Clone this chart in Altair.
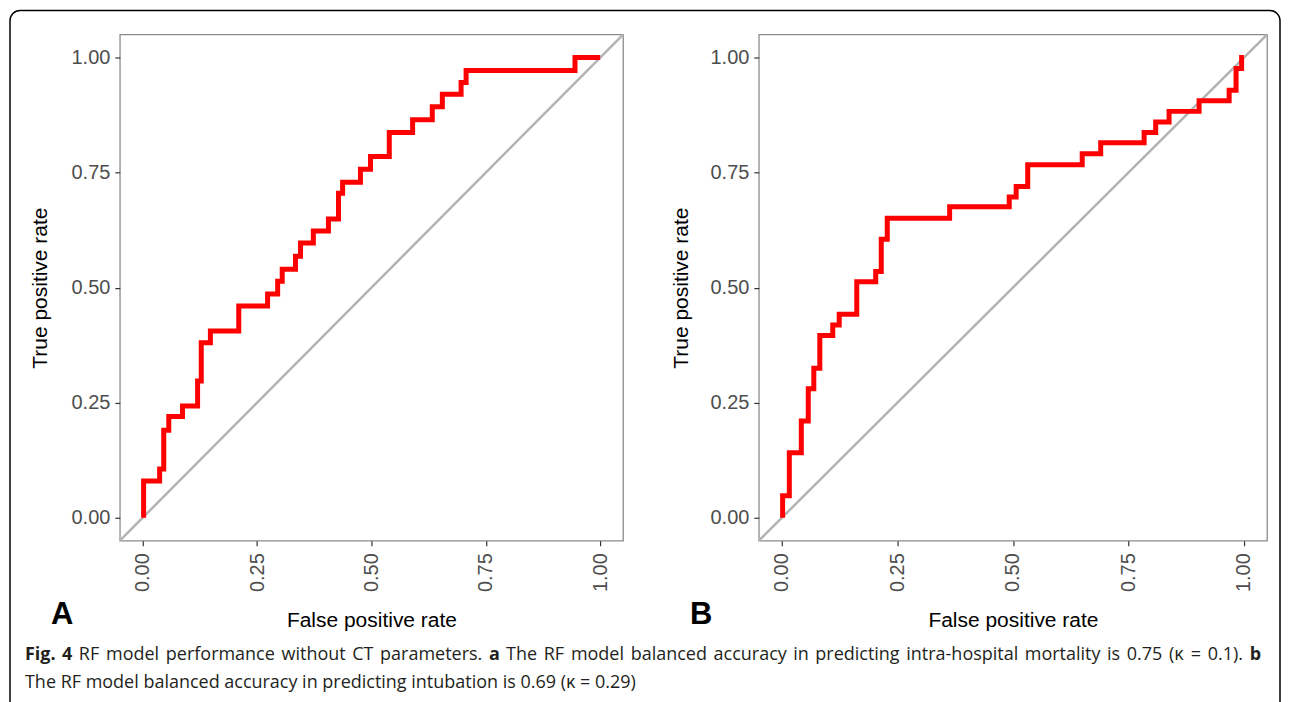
import altair as alt
import pandas as pd

# ---- data ----
fpr_a = [0.002, 0.002, 0.037, 0.046, 0.057, 0.087, 0.12, 0.128, 0.148, 0.21, 0.273, 0.295, 0.305,
         0.334, 0.345, 0.373, 0.406, 0.428, 0.437, 0.476, 0.498, 0.539, 0.59, 0.633, 0.655, 0.696,
         0.707, 0.945, 1.0]
tpr_a = [0.0, 0.08, 0.106, 0.19, 0.22, 0.243, 0.297, 0.38, 0.406, 0.46, 0.486, 0.514, 0.54,
         0.568, 0.597, 0.623, 0.649, 0.705, 0.729, 0.757, 0.785, 0.837, 0.865, 0.893, 0.92, 0.946,
         0.972, 1.0, 1.0]

fpr_b = [0.0015, 0.0015, 0.016, 0.042, 0.057, 0.069, 0.082, 0.11, 0.124, 0.162, 0.203, 0.215,
         0.228, 0.363, 0.492, 0.507, 0.532, 0.65, 0.69, 0.784, 0.809, 0.838, 0.903, 0.968, 0.983,
         0.995, 1.0]
tpr_b = [0.0, 0.048, 0.141, 0.21, 0.28, 0.325, 0.396, 0.419, 0.442, 0.513, 0.535, 0.605, 0.651,
         0.676, 0.697, 0.72, 0.767, 0.791, 0.815, 0.837, 0.86, 0.883, 0.906, 0.929, 0.976, 1.0, 1.0]

diag = [-0.05, 1.05]
tick_values = [0.0, 0.25, 0.5, 0.75, 1.0]
axis_domain = [-0.05, 1.05]

x_title = "False positive rate"
y_title = "True positive rate"
panel_letters = ["A", "B"]
# caption line 1 (justified in the reference): (word, bold)
cap_line1 = [("Fig.", True), ("4", True), ("RF", False), ("model", False),
             ("performance", False), ("without", False), ("CT", False), ("parameters.", False),
             ("a", True), ("The", False), ("RF", False), ("model", False), ("balanced", False),
             ("accuracy", False), ("in", False), ("predicting", False),
             ("intra-hospital", False), ("mortality", False), ("is", False), ("0.75", False),
             ("(\u03ba", False), ("=", False), ("0.1).", False), ("b", True)]
cap_line2 = "The RF model balanced accuracy in predicting intubation is 0.69 (\u03ba = 0.29)"

AXF = "Liberation Sans"
CAPF = "Open Sans"
CAPS = 18
CAPC = "#231f20"

# approximate Open Sans advance widths (em) used only to justify the caption line
_reg = {" ": .26, "a": .556, "b": .613, "c": .476, "d": .613, "e": .561, "f": .339, "g": .548,
        "h": .614, "i": .253, "j": .253, "k": .525, "l": .253, "m": .930, "n": .614, "o": .604,
        "p": .613, "q": .613, "r": .408, "s": .477, "t": .353, "u": .614, "v": .501, "w": .778,
        "x": .524, "y": .502, "z": .477, "C": .633, "F": .525, "R": .627, "T": .547,
        ".": .266, "(": .296, ")": .296, "=": .572, "-": .322, "\u03ba": .55}
_bold = {"F": .546, "i": .297, "g": .561, ".": .285, "4": .572, "a": .589, "b": .630}


def word_width(w, bold):
    tab = _bold if bold else _reg
    return sum(tab.get(c, .572) for c in w) * CAPS


def text_mark(txt, x, y, size, weight="normal", font=AXF, color="black", align="left"):
    return alt.Chart(pd.DataFrame({"t": [txt]})).mark_text(
        align=align, baseline="alphabetic", fontSize=size, fontWeight=weight,
        font=font, color=color
    ).encode(x=alt.value(x), y=alt.value(y), text="t:N")


def panel(fpr, tpr, w, h, ytitle_x):
    roc = pd.DataFrame({"fpr": fpr, "tpr": tpr, "i": list(range(len(fpr)))})
    dg = pd.DataFrame({"x": diag, "y": diag})
    xs = alt.Scale(domain=axis_domain, nice=False, zero=False)
    ys = alt.Scale(domain=axis_domain, nice=False, zero=False)
    xax = alt.Axis(values=tick_values, format=".2f", labelAngle=270, labelFontSize=20,
                   labelFont=AXF, labelColor="#4d4d4d", labelPadding=7, tickSize=5,
                   tickColor="#333333", tickWidth=1.2, domain=False, grid=False,
                   title=x_title, titleFont=AXF, titleFontSize=21, titleFontWeight="normal",
                   titleColor="black", titleY=86, titleBaseline="alphabetic")
    yax = alt.Axis(values=tick_values, format=".2f", labelFontSize=20, labelFont=AXF,
                   labelColor="#4d4d4d", labelPadding=5, tickSize=5, tickColor="#333333",
                   tickWidth=1.2, domain=False, grid=False, title=y_title, titleFont=AXF,
                   titleFontSize=21, titleFontWeight="normal", titleColor="black",
                   titleX=ytitle_x, titleBaseline="alphabetic")
    d = alt.Chart(dg).mark_line(color="#b3b3b3", strokeWidth=2.5).encode(
        x=alt.X("x:Q", scale=xs, axis=xax), y=alt.Y("y:Q", scale=ys, axis=yax))
    r = alt.Chart(roc).mark_line(color="#ff0000", strokeWidth=5, interpolate="step-after",
                                 strokeJoin="miter", strokeCap="butt").encode(
        x=alt.X("fpr:Q", scale=xs, axis=xax), y=alt.Y("tpr:Q", scale=ys, axis=yax),
        order="i:Q")
    return [d, r], w, h


# Panel A: plot origin sits at about page (119, 36)
OX = 119
la, wa, ha = panel(fpr_a, tpr_a, 504, 507, -73)
border = alt.Chart(pd.DataFrame({"b": [1]})).mark_rect(
    fill="white", fillOpacity=0, stroke="black", strokeWidth=1.5, cornerRadius=10
).encode(x=alt.value(-110), x2=alt.value(1162), y=alt.value(-24), y2=alt.value(690))

annots = [
    text_mark(panel_letters[0], -69, 590, 31, "bold"),
    text_mark(panel_letters[1], 571, 590, 31, "bold"),
]

# justify caption line 1 between page x 24 and 1262
x_start, x_end = 24 - OX, 1262 - OX
widths = [word_width(w, b) for w, b in cap_line1]
gap = (x_end - x_start - sum(widths)) / (len(cap_line1) - 1)
cx = x_start
for (w, b), ww in zip(cap_line1, widths):
    annots.append(text_mark(w, round(cx, 1), 626, CAPS, "bold" if b else "normal", CAPF, CAPC))
    cx += ww + gap
annots.append(text_mark(cap_line2, x_start, 655, CAPS, "normal", CAPF, CAPC))

chart_a = alt.layer(border, *la, *annots).properties(width=wa, height=ha)

lb, wb, hb = panel(fpr_b, tpr_b, 509, 507, -71)
chart_b = alt.layer(*lb).properties(width=wb, height=hb)

chart = alt.hconcat(chart_a, chart_b, spacing=136, bounds="flush").properties(
    padding={"left": 0, "top": 0, "right": 0, "bottom": 0},
    background="white"
).configure_view(stroke="#8c8c8c", strokeWidth=1.3)

chart.save("out.html", embed_options={"renderer": "svg", "actions": False})
